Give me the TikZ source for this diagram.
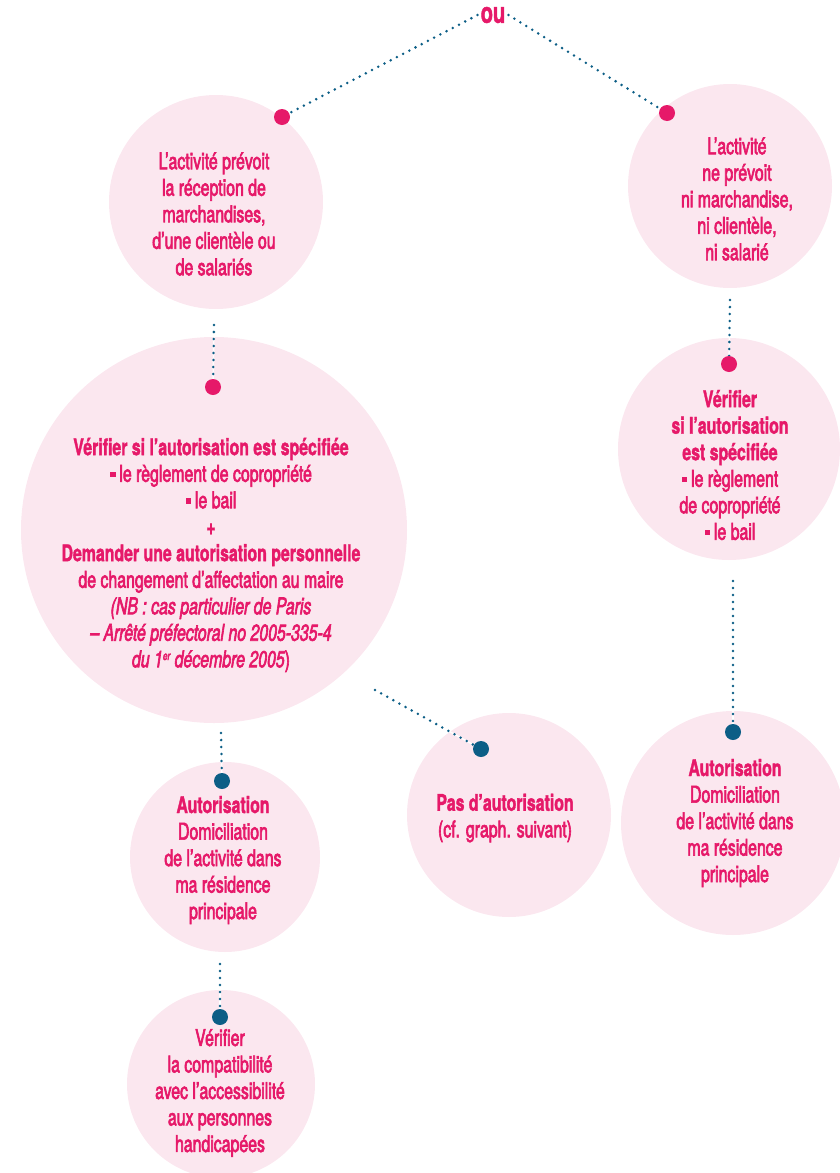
\documentclass[tikz,border=0pt]{standalone}
\usepackage{fontspec}
\setmainfont{TeX Gyre Heros}[FakeStretch=0.69,BoldFeatures={FakeBold=1.5}]
\newfontfamily\medfont{TeX Gyre Heros}[FakeStretch=0.69,FakeBold=2.6]
\usepackage{tikz}
\usetikzlibrary{calc}
\usepackage{xcolor}
\definecolor{myPink}{RGB}{230,25,105}
\definecolor{myRose}{RGB}{251,231,239}
\definecolor{myBlue}{RGB}{12,94,134}
\newcommand{\titre}[1]{{\normalfont\bfseries #1}}
\newcommand{\puce}{\rule[0.2em]{0.24em}{0.24em}\,}
\tikzset{
  disc/.style={circle, fill=myRose, inner sep=0pt},
  txt/.style={text=myPink, align=center, inner sep=0pt,
    font=\fontsize{23}{26.5}\selectfont\medfont},
  dotline/.style={myBlue, line width=2.8pt, line cap=round,
    dash pattern=on 0pt off 7pt,
    preaction={draw=white, line width=1.4pt, solid}},
  pinkdot/.style={circle, fill=myPink, inner sep=0pt, minimum size=16pt},
  bluedot/.style={circle, fill=myBlue, inner sep=0pt, minimum size=16pt},
}

\begin{document}
\begin{tikzpicture}[x=1pt, y=-1pt]

%%%%%%%%%%%%%%%%%%%%%%%%%%%%%%%%%%%%%%%%%%%%%%%%%%%%%%%%%%%%%% Setup
\coordinate (C) at (0, 0);
% page frame, same size as the reference
\useasboundingbox ($(C)$) rectangle ($(C)+(839,1173)$);

%%%%%%%%%%%%%%%%%%%%%%%%%%%%%%%%%%%%%%%%%%%%%%%%%%%%%%%%%%%%%% Circles
\node[disc, minimum size=214pt] (act) at ($(C)+(216,202)$) {};
\node[disc, minimum size=204pt] (nonact) at ($(C)+(730,186)$) {};
\node[disc, minimum size=386pt] (verif) at ($(C)+(214,530)$) {};
\node[disc, minimum size=222pt] (verifR) at ($(C)+(729,449)$) {};
\node[disc, minimum size=190pt] (autoL) at ($(C)+(225,857)$) {};
\node[disc, minimum size=204pt] (pas) at ($(C)+(509,815)$) {};
\node[disc, minimum size=224pt] (autoR) at ($(C)+(733,823)$) {};
\node[disc, minimum size=188pt] (access) at ($(C)+(221,1084)$) {};

%%%%%%%%%%%%%%%%%%%%%%%%%%%%%%%%%%%%%%%%%%%%%%%%%%%%%%%%%%%%%% Links
\node[txt, inner sep=3pt, font=\fontsize{29}{30}\selectfont\bfseries] (ou) at ($(C)+(493,15)$) {ou};

\coordinate (pA) at ($(C)+(282,117)$);
\coordinate (pB) at ($(C)+(667,113)$);
\coordinate (pC) at ($(C)+(213,387)$);
\coordinate (pG) at ($(C)+(729,364)$);
\coordinate (bD) at ($(C)+(222,781)$);
\coordinate (bE) at ($(C)+(481,749)$);
\coordinate (bF) at ($(C)+(220,1017)$);
\coordinate (bH) at ($(C)+(733,732)$);

\coordinate (actS) at ($(C)+(214,325)$);
\coordinate (nonactS) at ($(C)+(730,300)$);
\coordinate (verifS) at ($(C)+(221,733)$);
\coordinate (verifSE) at ($(C)+(375,690)$);
\coordinate (verifRS) at ($(C)+(733,581)$);
\coordinate (autoLS) at ($(C)+(220,964)$);

\draw[dotline] (ou.west) -- (pA);
\draw[dotline] (ou.east) -- (pB);
\draw[dotline] (actS) -- (pC);
\draw[dotline] (nonactS) -- (pG);
\draw[dotline] (verifS) -- (bD);
\draw[dotline] (verifSE) -- (bE);
\draw[dotline] (autoLS) -- (bF);
\draw[dotline] (verifRS) -- (bH);

\node[pinkdot] (dA) at (pA) {};
\node[pinkdot] (dB) at (pB) {};
\node[pinkdot] (dC) at (pC) {};
\node[pinkdot] (dG) at (pG) {};
\node[bluedot] (dD) at (bD) {};
\node[bluedot] (dE) at (bE) {};
\node[bluedot] (dF) at (bF) {};
\node[bluedot] (dH) at (bH) {};

%%%%%%%%%%%%%%%%%%%%%%%%%%%%%%%%%%%%%%%%%%%%%%%%%%%%%%%%%%%%%% Texts
\node[txt] (actT) at ($(C)+(214,214)$) {L’activité prévoit\\la réception de\\marchandises,\\d’une clientèle ou\\de salariés};
\node[txt] (nonactT) at ($(C)+(737,199)$) {L’activité\\ne prévoit\\ni marchandise,\\ni clientèle,\\ni salarié};
\node[txt] (verifT) at ($(C)+(211,555)$) {\titre{Vérifier si l’autorisation est spécifiée}\\
  \puce le règlement de copropriété\\
  \puce le bail\\
  \titre{+}\\
  \titre{Demander une autorisation personnelle}\\
  de changement d’affectation au maire\\
  {\itshape (NB : cas particulier de Paris}\\
  {\itshape – Arrêté préfectoral no 2005-335-4}\\
  {\itshape du 1{\fontsize{12}{12}\selectfont\raisebox{0.6em}{er}} décembre 2005})};
\node[txt] (verifRT) at ($(C)+(730,465)$) {\titre{Vérifier}\\\titre{si l’autorisation}\\\titre{est spécifiée}\\\puce le règlement\\de copropriété\\\puce le bail};
\node[txt] (autoLT) at ($(C)+(223,860)$) {\titre{Autorisation}\\Domiciliation\\de l’activité dans\\ma résidence\\principale};
\node[txt] (pasT) at ($(C)+(505,818)$) {\titre{Pas d’autorisation}\\(cf. graph. suivant)};
\node[txt] (autoRT) at ($(C)+(735,823)$) {\titre{Autorisation}\\Domiciliation\\de l’activité dans\\ma résidence\\principale};
\node[txt] (accessT) at ($(C)+(220,1093)$) {Vérifier\\la compatibilité\\avec l’accessibilité\\aux personnes\\handicapées};

\end{tikzpicture}
\end{document}
